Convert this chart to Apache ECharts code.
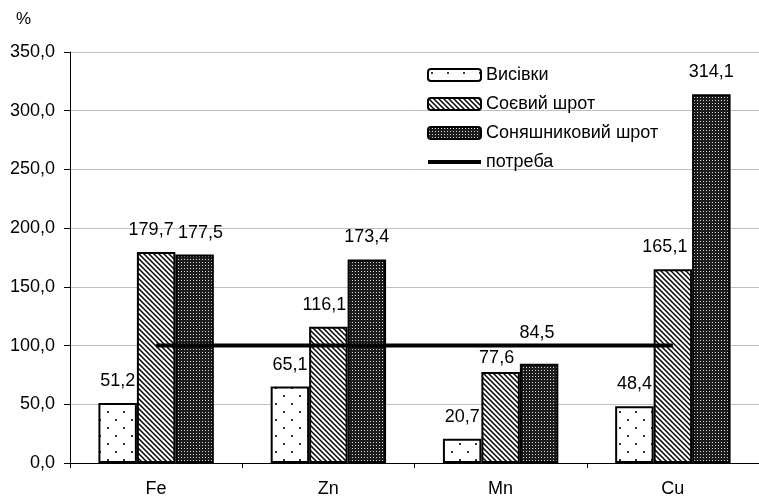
<!DOCTYPE html>
<html>
<head>
<meta charset="utf-8">
<script src="https://cdn.jsdelivr.net/npm/echarts@6/dist/echarts.min.js"></script>
<style>
  html, body { margin: 0; padding: 0; background: #fff; }
  #chart { width: 759px; height: 499px; }
</style>
</head>
<body>
<div id="chart"></div>
<script>
// Мікроелементи: забезпеченість потреби, %
const elements = ['Fe', 'Zn', 'Mn', 'Cu'];
const seriesNames = ['Висівки', 'Соєвий шрот', 'Соняшниковий шрот', 'потреба'];
const bran = [51.2, 65.1, 20.7, 48.4];
const soyMeal = [179.7, 116.1, 77.6, 165.1];
const sunflowerMeal = [177.5, 173.4, 84.5, 314.1];
const requirement = [100, 100, 100, 100];
const yTicks = { min: 0, max: 350, interval: 50 };

// Зсуви підписів значень [dx, dy], щоб вони не налазили один на одного
const labelNudge = [
  [[0, 0], [-5, 0], [6, 0]],
  [[0, 0], [-4, 0], [0, 0]],
  [[0, 0], [-4, 8], [-2, -9]],
  [[0, 0], [-8, 0], [0, 0]]
];

const FONT = 'Liberation Sans, Arial, sans-serif';

function tile(w, h, draw) {
  const c = document.createElement('canvas');
  c.width = w; c.height = h;
  const ctx = c.getContext('2d');
  draw(ctx, w, h);
  return c;
}

// Рідкі крапки
const dotsTile = tile(16, 16, (ctx, w, h) => {
  ctx.fillStyle = '#ffffff'; ctx.fillRect(0, 0, w, h);
  ctx.fillStyle = '#333333';
  ctx.fillRect(3, 3, 2, 2);
  ctx.fillRect(11, 11, 2, 2);
});
// Діагональне штрихування
const hatchTile = tile(5, 5, (ctx, w, h) => {
  ctx.fillStyle = '#ffffff'; ctx.fillRect(0, 0, w, h);
  ctx.strokeStyle = '#000000'; ctx.lineWidth = 1.5;
  for (let k = -1; k <= 1; k++) {
    ctx.beginPath();
    ctx.moveTo(-1, -1 + k * 5);
    ctx.lineTo(w + 1, h + 1 + k * 5);
    ctx.stroke();
  }
});
// Темна сітка зі світлими крапками
const gridTile = tile(3, 3, (ctx, w, h) => {
  ctx.fillStyle = '#1c1c1c'; ctx.fillRect(0, 0, w, h);
  ctx.fillStyle = '#d8d8d8';
  ctx.fillRect(1, 1, 1, 1);
});

const fmt = v => v.toFixed(1).replace('.', ',');

function barSeries(name, values, pattern, idx) {
  return {
    name: name,
    type: 'bar',
    barGap: 0,
    barCategoryGap: '33%',
    itemStyle: {
      color: { image: pattern, repeat: 'repeat' },
      borderColor: '#000',
      borderWidth: 2
    },
    label: {
      show: true,
      position: 'top',
      distance: 13,
      color: '#000',
      fontFamily: FONT,
      fontSize: 18,
      formatter: p => fmt(p.value)
    },
    data: values.map((v, i) => ({
      value: v,
      label: { offset: labelNudge[i][idx] }
    }))
  };
}

const chart = echarts.init(document.getElementById('chart'), null, { renderer: 'canvas' });

chart.setOption({
  animation: false,
  backgroundColor: '#ffffff',
  grid: { left: 70, top: 52, width: 692, height: 411 },
  graphic: [{
    type: 'text',
    left: 16,
    top: 11,
    style: { text: '%', fontFamily: FONT, fontSize: 17, fill: '#000' }
  }],
  legend: {
    orient: 'vertical',
    left: 422,
    top: 60,
    itemWidth: 53,
    itemHeight: 12,
    itemGap: 9,
    selectedMode: false,
    symbolKeepAspect: true,
    textStyle: { fontFamily: FONT, fontSize: 18, color: '#000', lineHeight: 20 },
    data: [
      seriesNames[0],
      seriesNames[1],
      seriesNames[2],
      { name: seriesNames[3], icon: 'path://M0,0H53V4H0Z', itemStyle: { color: '#000' } }
    ]
  },
  xAxis: {
    type: 'category',
    data: elements,
    axisLine: { lineStyle: { color: '#000', width: 1 } },
    axisTick: { show: true, length: 5, lineStyle: { color: '#000' } },
    axisLabel: { color: '#000', fontFamily: FONT, fontSize: 18, margin: 17 },
    splitLine: { show: false }
  },
  yAxis: {
    type: 'value',
    min: yTicks.min,
    max: yTicks.max,
    interval: yTicks.interval,
    axisLine: { show: true, lineStyle: { color: '#000', width: 1 } },
    axisTick: { show: true, length: 6, lineStyle: { color: '#000' } },
    axisLabel: {
      color: '#000', fontFamily: FONT, fontSize: 18, margin: 15,
      formatter: v => fmt(v)
    },
    splitLine: { show: true, lineStyle: { color: '#c0c0c0', width: 1 } }
  },
  series: [
    barSeries(seriesNames[0], bran, dotsTile, 0),
    barSeries(seriesNames[1], soyMeal, hatchTile, 1),
    barSeries(seriesNames[2], sunflowerMeal, gridTile, 2),
    {
      name: seriesNames[3],
      type: 'line',
      data: requirement,
      symbol: 'none',
      z: 5,
      lineStyle: { color: '#000', width: 4 },
      itemStyle: { color: '#000' }
    }
  ]
});
</script>
</body>
</html>
